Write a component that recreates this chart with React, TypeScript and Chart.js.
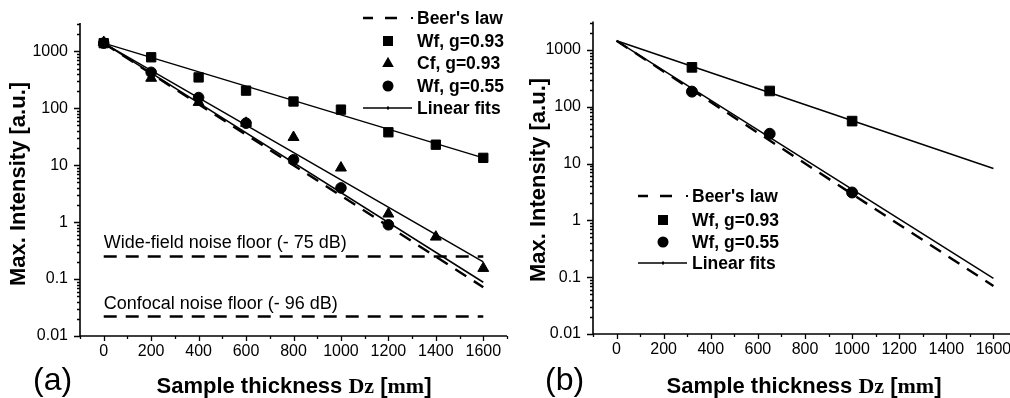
import React, { useEffect, useRef } from 'react';
import { Chart, registerables } from 'chart.js';

Chart.register(...registerables);

const SANS = '"Liberation Sans", Arial, Helvetica, sans-serif';
const SERIF = '"Liberation Serif", "Times New Roman", serif';

// ---- shared axes ----
const xTickLabels = [0, 200, 400, 600, 800, 1000, 1200, 1400, 1600];
const yTickLabels = [0.01, 0.1, 1, 10, 100, 1000];
const fitEndsX = [0, 1600];

// ---- panel (a) ----
const thicknessA = [0, 200, 400, 600, 800, 1000, 1200, 1400, 1600];
const wf093A = [1400, 790, 350, 205, 132, 95, 38, 23, 13.5];
const cf093A = [1450, 340, 128, 55, 31, 9, 1.4, 0.55, 0.155];
const wf055A = [1400, 430, 155, 55, 12.5, 4.0, 0.9];
const beerA = [1400, 0.072];
const fitWf093A = [1400, 13.5];
const fitCf093A = [1400, 0.2];
const fitWf055A = [1400, 0.088];
const floorX = [0, 1600];
const wideFieldFloor = [0.25, 0.25];
const confocalFloor = [0.022, 0.022];
const floorLabels = ['Wide-field noise floor (- 75 dB)', 'Confocal noise floor (- 96 dB)'];

// ---- panel (b) ----
const thicknessB = [320, 650, 1000];
const wf093B = [495, 190, 56];
const wf055B = [185, 33.5, 3.1];
const beerB = [1450, 0.07];
const fitWf093B = [1450, 8.2];
const fitWf055B = [1450, 0.095];

const legendA = ["Beer's law", 'Wf, g=0.93', 'Cf, g=0.93', 'Wf, g=0.55', 'Linear fits'];
const legendB = ["Beer's law", 'Wf, g=0.93', 'Wf, g=0.55', 'Linear fits'];

const pts = (xs: number[], ys: number[]) => ys.map((y, i) => ({ x: xs[i], y }));

const markerSet = (label: string, xs: number[], ys: number[], style: string, r: number) => ({
  label,
  data: pts(xs, ys),
  showLine: false,
  pointStyle: style,
  pointRadius: r,
  pointBackgroundColor: '#000',
  pointBorderColor: '#000',
  pointBorderWidth: 1,
  order: 0,
});

const lineSet = (label: string, xs: number[], ys: number[], dashed: boolean) => ({
  label,
  data: pts(xs, ys),
  showLine: true,
  borderColor: '#000',
  borderWidth: dashed ? 2.4 : 1.5,
  borderDash: dashed ? [13, 9] : [],
  pointRadius: 0,
  order: 1,
});

type Seg = [string, string];

function drawRuns(ctx: CanvasRenderingContext2D, segs: Seg[], cx: number, baseY: number) {
  let total = 0;
  segs.forEach(([t, f]) => {
    ctx.font = f;
    total += ctx.measureText(t).width;
  });
  let x = cx - total / 2;
  ctx.textAlign = 'left';
  ctx.textBaseline = 'alphabetic';
  segs.forEach(([t, f]) => {
    ctx.font = f;
    ctx.fillText(t, x, baseY);
    x += ctx.measureText(t).width;
  });
}

type Sym = 'beer' | 'square' | 'triangle' | 'circle' | 'fit';

function drawSymbol(ctx: CanvasRenderingContext2D, sym: Sym, cx: number, cy: number) {
  ctx.save();
  ctx.fillStyle = '#000';
  ctx.strokeStyle = '#000';
  if (sym === 'beer') {
    ctx.lineWidth = 2.4;
    ctx.beginPath();
    ctx.moveTo(cx - 25, cy);
    ctx.lineTo(cx - 15, cy);
    ctx.moveTo(cx - 3, cy);
    ctx.lineTo(cx + 9, cy);
    ctx.stroke();
    ctx.fillRect(cx + 23, cy - 1, 2, 2);
  } else if (sym === 'square') {
    ctx.fillRect(cx - 5, cy - 5, 10, 10);
  } else if (sym === 'triangle') {
    ctx.beginPath();
    ctx.moveTo(cx, cy - 6.3);
    ctx.lineTo(cx + 5.8, cy + 4);
    ctx.lineTo(cx - 5.8, cy + 4);
    ctx.closePath();
    ctx.fill();
  } else if (sym === 'circle') {
    ctx.beginPath();
    ctx.arc(cx, cy, 5.5, 0, Math.PI * 2);
    ctx.fill();
  } else {
    ctx.lineWidth = 1.5;
    ctx.beginPath();
    ctx.moveTo(cx - 25, cy);
    ctx.lineTo(cx + 24, cy);
    ctx.stroke();
    ctx.fillRect(cx - 1, cy - 1.5, 2, 3);
  }
  ctx.restore();
}

interface Decor {
  panel: string;
  panelX: number;
  yTitleX: number;
  yTitleY: number;
  xTitleX: number;
  legend: string[];
  symbols: Sym[];
  legendX: number;
  legendY: number[];
  floors: boolean;
}

function decorPlugin(d: Decor) {
  return {
    id: 'decor',
    afterDraw(chart: any) {
      const { ctx, chartArea: a, scales } = chart;
      const x = scales.x;
      const y = scales.y;
      ctx.save();
      ctx.strokeStyle = '#000';
      ctx.fillStyle = '#000';

      // axis lines
      ctx.lineWidth = 1.6;
      ctx.beginPath();
      ctx.moveTo(a.left, a.top);
      ctx.lineTo(a.left, a.bottom);
      ctx.lineTo(a.right, a.bottom);
      ctx.stroke();

      // y tick marks (majors at decades, minors at 2..9)
      ctx.lineWidth = 1.3;
      ctx.beginPath();
      y.ticks.forEach((t: any) => {
        const v = t.value;
        const e = Math.log10(v);
        const p = Math.floor(e + 1e-9);
        const m = v / Math.pow(10, p);
        if (Math.abs(m - Math.round(m)) > 1e-6) return;
        const major = Math.round(m) === 1;
        const py = Math.round(y.getPixelForValue(v)) + 0.5;
        ctx.moveTo(a.left, py);
        ctx.lineTo(a.left - (major ? 6 : 3), py);
      });
      // x tick marks every 100
      x.ticks.forEach((t: any) => {
        const v = Math.round(t.value);
        const major = xTickLabels.includes(v);
        const px = Math.round(x.getPixelForValue(v)) + 0.5;
        ctx.moveTo(px, a.bottom);
        ctx.lineTo(px, a.bottom + (major ? 5 : 3));
      });
      ctx.stroke();

      // noise-floor captions
      if (d.floors) {
        ctx.font = `18px ${SANS}`;
        ctx.textAlign = 'left';
        ctx.textBaseline = 'alphabetic';
        const x0 = x.getPixelForValue(floorX[0]);
        ctx.fillText(floorLabels[0], x0, y.getPixelForValue(wideFieldFloor[0]) - 8);
        ctx.fillText(floorLabels[1], x0, y.getPixelForValue(confocalFloor[0]) - 8);
      }

      // legend
      d.legend.forEach((txt, i) => {
        const cy = d.legendY[i];
        drawSymbol(ctx, d.symbols[i], d.legendX, cy);
        ctx.fillStyle = '#000';
        ctx.font = `bold 17.5px ${SANS}`;
        ctx.textAlign = 'left';
        ctx.textBaseline = 'alphabetic';
        ctx.fillText(txt, d.legendX + 29, cy + 6.3);
      });

      // y-axis title
      ctx.save();
      ctx.translate(d.yTitleX, d.yTitleY);
      ctx.rotate(-Math.PI / 2);
      ctx.font = `bold 22px ${SANS}`;
      ctx.textAlign = 'center';
      ctx.textBaseline = 'middle';
      ctx.fillText('Max. Intensity [a.u.]', 0, 0);
      ctx.restore();

      // x-axis title
      const bold = `bold 22px ${SANS}`;
      const boldSerif = `bold 22px ${SERIF}`;
      drawRuns(
        ctx,
        [
          ['Sample thickness ', bold],
          ['Dz', boldSerif],
          [' [', bold],
          ['mm', boldSerif],
          [']', bold],
        ],
        d.xTitleX,
        393
      );

      // panel letter
      ctx.font = `32px ${SANS}`;
      ctx.textAlign = 'left';
      ctx.textBaseline = 'alphabetic';
      ctx.fillText(d.panel, d.panelX, 390);
      ctx.restore();
    },
  };
}

function makeOptions(pad: { top: number; right: number }, yWidth: number, xHeight: number) {
  return {
    responsive: false,
    animation: false as const,
    devicePixelRatio: 1,
    events: [] as any[],
    layout: { padding: { left: 0, right: pad.right, top: pad.top, bottom: 0 } },
    plugins: {
      legend: { display: false },
      tooltip: { enabled: false },
      title: { display: false },
    },
    scales: {
      x: {
        type: 'linear' as const,
        min: -100,
        max: 1700,
        afterFit: (s: any) => {
          s.height = xHeight;
        },
        grid: { display: false, drawTicks: false },
        border: { display: false },
        ticks: {
          stepSize: 100,
          autoSkip: false,
          maxRotation: 0,
          padding: 6,
          color: '#000',
          font: { family: SANS, size: 16 },
          callback: (v: any) => {
            const r = Math.round(Number(v));
            return xTickLabels.includes(r) ? String(r) : '';
          },
        },
      },
      y: {
        type: 'logarithmic' as const,
        min: 0.01,
        max: 3162.28,
        afterFit: (s: any) => {
          s.width = yWidth;
        },
        grid: { display: false, drawTicks: false },
        border: { display: false },
        ticks: {
          autoSkip: false,
          padding: 12,
          color: '#000',
          font: { family: SANS, size: 16 },
          callback: (v: any) => {
            const lv = Math.log10(Number(v));
            const hit = yTickLabels.find((l) => Math.abs(Math.log10(l) - lv) < 1e-6);
            return hit === undefined ? '' : String(hit);
          },
        },
      },
    },
  };
}

function PanelA() {
  const ref = useRef<HTMLCanvasElement | null>(null);
  useEffect(() => {
    if (!ref.current) return;
    const chart = new Chart(ref.current, {
      type: 'scatter',
      data: {
        datasets: [
          markerSet('Wf, g=0.93', thicknessA, wf093A, 'rect', 6.6),
          markerSet('Cf, g=0.93', thicknessA, cf093A, 'triangle', 6.3),
          markerSet('Wf, g=0.55', thicknessA, wf055A, 'circle', 5.3),
          lineSet("Beer's law", fitEndsX, beerA, true),
          lineSet('fit Wf 0.93', fitEndsX, fitWf093A, false),
          lineSet('fit Cf 0.93', fitEndsX, fitCf093A, false),
          lineSet('fit Wf 0.55', fitEndsX, fitWf055A, false),
          lineSet('wide-field floor', floorX, wideFieldFloor, true),
          lineSet('confocal floor', floorX, confocalFloor, true),
        ] as any,
      },
      options: makeOptions({ top: 23, right: 13 }, 80, 62) as any,
      plugins: [
        decorPlugin({
          panel: '(a)',
          panelX: 33,
          yTitleX: 19,
          yTitleY: 184,
          xTitleX: 294,
          legend: legendA,
          symbols: ['beer', 'square', 'triangle', 'circle', 'fit'],
          legendX: 388,
          legendY: [18, 41, 63, 86, 108],
          floors: true,
        }),
      ],
    });
    return () => chart.destroy();
  }, []);
  return (
    <canvas
      ref={ref}
      width={520}
      height={398}
      style={{ position: 'absolute', left: 0, top: 0, width: 520, height: 398 }}
    />
  );
}

function PanelB() {
  const ref = useRef<HTMLCanvasElement | null>(null);
  useEffect(() => {
    if (!ref.current) return;
    const chart = new Chart(ref.current, {
      type: 'scatter',
      data: {
        datasets: [
          markerSet('Wf, g=0.93', thicknessB, wf093B, 'rect', 6.8),
          markerSet('Wf, g=0.55', thicknessB, wf055B, 'circle', 5.5),
          lineSet("Beer's law", fitEndsX, beerB, true),
          lineSet('fit Wf 0.93', fitEndsX, fitWf093B, false),
          lineSet('fit Wf 0.55', fitEndsX, fitWf055B, false),
        ] as any,
      },
      options: makeOptions({ top: 10, right: 13 }, 73, 64) as any,
      plugins: [
        decorPlugin({
          panel: '(b)',
          panelX: 25,
          yTitleX: 19,
          yTitleY: 180,
          xTitleX: 284,
          legend: legendB,
          symbols: ['beer', 'square', 'circle', 'fit'],
          legendX: 143,
          legendY: [196, 220, 242, 263],
          floors: false,
        }),
      ],
    });
    return () => chart.destroy();
  }, []);
  return (
    <canvas
      ref={ref}
      width={510}
      height={398}
      style={{ position: 'absolute', left: 520, top: 0, width: 510, height: 398 }}
    />
  );
}

export default function App() {
  return (
    <div
      style={{
        position: 'fixed',
        left: 0,
        top: 0,
        width: 1010,
        height: 398,
        overflow: 'hidden',
        background: '#fff',
      }}
    >
      <PanelA />
      <PanelB />
    </div>
  );
}
